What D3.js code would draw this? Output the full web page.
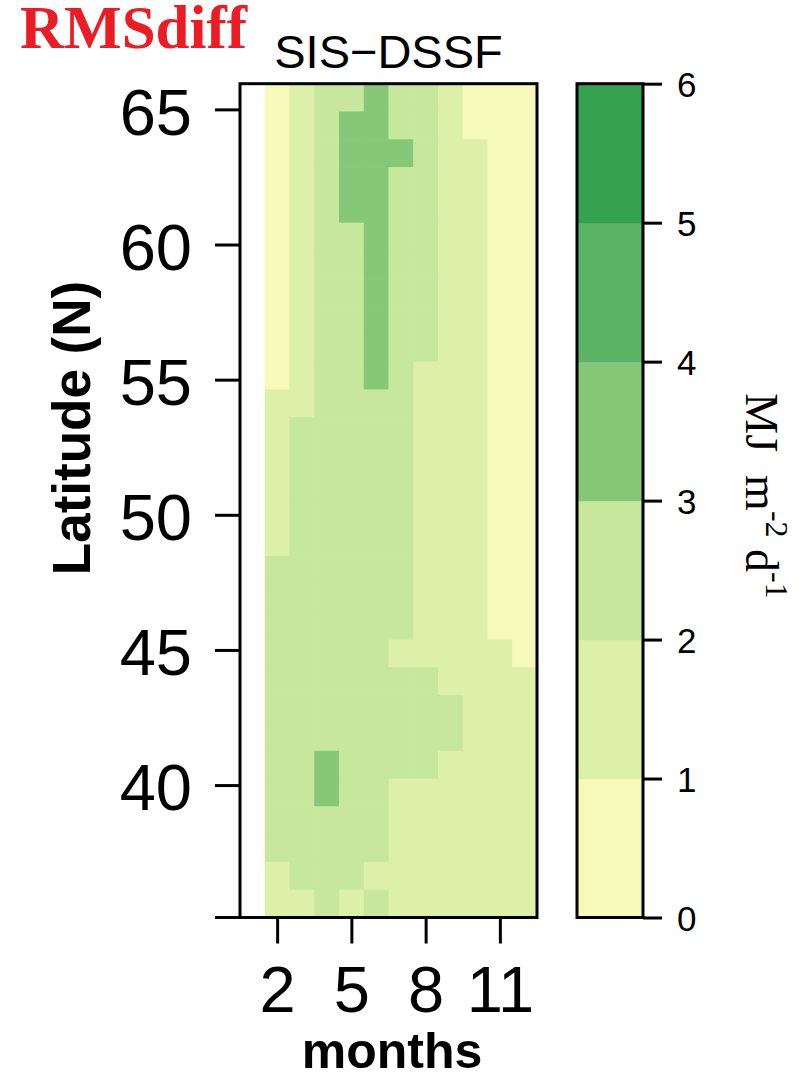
<!DOCTYPE html>
<html><head><meta charset="utf-8">
<script src="https://cdn.jsdelivr.net/npm/d3@7"></script>
<style>body{margin:0;background:#fff}</style>
</head><body><svg id="c" width="805" height="1074"></svg>
<script>
// ---- data ----
const months = [1,2,3,4,5,6,7,8,9,10,11,12];
const latRows = [65,64,63,62,61,60,59,58,57,56,55,54,53,52,51,50,49,48,47,46,45,44,43,42,41,40,39,38,37,36];
// RMS difference (MJ m-2 d-1), one row per latitude band (north to south), columns = months 1..12
const rmsValues = [
  [null,0.6,1.5,2.5,2.5,3.4,2.5,2.5,1.5,0.6,0.6,0.6],
  [null,0.6,1.5,2.5,3.4,3.4,2.5,2.5,1.5,0.6,0.6,0.6],
  [null,0.6,1.5,2.5,3.4,3.4,3.4,2.5,1.5,1.5,0.6,0.6],
  [null,0.6,1.5,2.5,3.4,3.4,2.5,2.5,1.5,1.5,0.6,0.6],
  [null,0.6,1.5,2.5,3.4,3.4,2.5,2.5,1.5,1.5,0.6,0.6],
  [null,0.6,1.5,2.5,2.5,3.4,2.5,2.5,1.5,1.5,0.6,0.6],
  [null,0.6,1.5,2.5,2.5,3.4,2.5,2.5,1.5,1.5,0.6,0.6],
  [null,0.6,1.5,2.5,2.5,3.4,2.5,2.5,1.5,1.5,0.6,0.6],
  [null,0.6,1.5,2.5,2.5,3.4,2.5,2.5,1.5,1.5,0.6,0.6],
  [null,0.6,1.5,2.5,2.5,3.4,2.5,2.5,1.5,1.5,0.6,0.6],
  [null,0.6,1.5,2.5,2.5,3.4,2.5,1.5,1.5,1.5,0.6,0.6],
  [null,1.5,1.5,2.5,2.5,2.5,2.5,1.5,1.5,1.5,0.6,0.6],
  [null,1.5,2.5,2.5,2.5,2.5,2.5,1.5,1.5,1.5,0.6,0.6],
  [null,1.5,2.5,2.5,2.5,2.5,2.5,1.5,1.5,1.5,0.6,0.6],
  [null,1.5,2.5,2.5,2.5,2.5,2.5,1.5,1.5,1.5,0.6,0.6],
  [null,1.5,2.5,2.5,2.5,2.5,2.5,1.5,1.5,1.5,0.6,0.6],
  [null,1.5,2.5,2.5,2.5,2.5,2.5,1.5,1.5,1.5,0.6,0.6],
  [null,2.5,2.5,2.5,2.5,2.5,2.5,1.5,1.5,1.5,0.6,0.6],
  [null,2.5,2.5,2.5,2.5,2.5,2.5,1.5,1.5,1.5,0.6,0.6],
  [null,2.5,2.5,2.5,2.5,2.5,2.5,1.5,1.5,1.5,0.6,0.6],
  [null,2.5,2.5,2.5,2.5,2.5,1.5,1.5,1.5,1.5,1.5,0.6],
  [null,2.5,2.5,2.5,2.5,2.5,2.5,2.5,1.5,1.5,1.5,1.5],
  [null,2.5,2.5,2.5,2.5,2.5,2.5,2.5,2.5,1.5,1.5,1.5],
  [null,2.5,2.5,2.5,2.5,2.5,2.5,2.5,2.5,1.5,1.5,1.5],
  [null,2.5,2.5,3.4,2.5,2.5,2.5,2.5,1.5,1.5,1.5,1.5],
  [null,2.5,2.5,3.4,2.5,2.5,1.5,1.5,1.5,1.5,1.5,1.5],
  [null,2.5,2.5,2.5,2.5,2.5,1.5,1.5,1.5,1.5,1.5,1.5],
  [null,2.5,2.5,2.5,2.5,2.5,1.5,1.5,1.5,1.5,1.5,1.5],
  [null,1.5,2.5,2.5,2.5,1.5,1.5,1.5,1.5,1.5,1.5,1.5],
  [null,1.5,1.5,2.5,1.5,2.5,1.5,1.5,1.5,1.5,1.5,1.5]
];
const latTicks = [40,45,50,55,60,65];
const monthTicks = [2,5,8,11];
const legendTicks = [0,1,2,3,4,5,6];
const levelBreaks = [1,2,3,4,5];
const levelColors = ["#f6fab9","#dcf0a8","#c6e79c","#85c878","#5cb467","#34a251"];

// ---- layout ----
const svg = d3.select("#c");
const box = {l:240, r:537, t:83.7, b:917.5};
const cbar = {l:577, r:643};

const x = d3.scaleBand().domain(months).range([box.l, box.r]);
const xTick = d3.scaleLinear().domain([0.5,12.5]).range([box.l, box.r]);
const yRow = d3.scaleBand().domain(latRows).range([box.t, box.b]);
const yLat = d3.scaleLinear().domain([35.1,65.95]).range([box.b, box.t]);
const color = d3.scaleThreshold().domain(levelBreaks).range(levelColors);
const yCb = d3.scaleLinear().domain([0,6]).range([box.b, box.t]);

// cells
const cells = [];
rmsValues.forEach((row,i)=>row.forEach((v,j)=>{ if(v!==null) cells.push({lat:latRows[i], m:months[j], v}); }));
svg.append("g").selectAll("rect").data(cells).join("rect")
  .attr("x", d=>x(d.m)).attr("y", d=>yRow(d.lat))
  .attr("width", x.bandwidth()+0.6).attr("height", yRow.bandwidth()+0.6)
  .attr("fill", d=>color(d.v));

// axes
const sw = 3;
const yAxis = svg.append("g").attr("transform",`translate(${box.l},0)`)
  .call(d3.axisLeft(yLat).tickValues(latTicks).tickSize(25).tickPadding(23).tickFormat(d3.format("d")));
const xAxis = svg.append("g").attr("transform",`translate(0,${box.b})`)
  .call(d3.axisBottom(xTick).tickValues(monthTicks).tickSize(26).tickPadding(22).tickFormat(d3.format("d")));
[yAxis,xAxis].forEach(g=>{
  g.select(".domain").remove();
  g.selectAll(".tick line").attr("stroke","#000").attr("stroke-width",sw);
  g.selectAll(".tick text").attr("font-family","Liberation Sans, Arial, sans-serif").attr("font-size",65).attr("fill","#000");
});
yAxis.selectAll(".tick text").attr("dy","0.38em");

// box
svg.append("rect").attr("x",box.l).attr("y",box.t).attr("width",box.r-box.l).attr("height",box.b-box.t)
  .attr("fill","none").attr("stroke","#000").attr("stroke-width",sw);
svg.append("line").attr("x1",box.l-25).attr("x2",box.l).attr("y1",box.b).attr("y2",box.b)
  .attr("stroke","#000").attr("stroke-width",sw);

// colorbar
const levels = d3.range(levelColors.length);
svg.append("g").selectAll("rect").data(levels).join("rect")
  .attr("x",cbar.l).attr("width",cbar.r-cbar.l)
  .attr("y",d=>yCb(d+1)).attr("height",d=>yCb(d)-yCb(d+1)+0.6)
  .attr("fill",d=>levelColors[d]);
svg.append("rect").attr("x",cbar.l).attr("y",box.t).attr("width",cbar.r-cbar.l).attr("height",box.b-box.t)
  .attr("fill","none").attr("stroke","#000").attr("stroke-width",sw);
const cAxis = svg.append("g").attr("transform",`translate(${cbar.r},0)`)
  .call(d3.axisRight(yCb).tickValues(legendTicks).tickSize(19).tickPadding(15).tickFormat(d3.format("d")));
cAxis.select(".domain").remove();
cAxis.selectAll(".tick line").attr("stroke","#000").attr("stroke-width",sw);
cAxis.selectAll(".tick text").attr("font-family","Liberation Sans, Arial, sans-serif").attr("font-size",35).attr("fill","#000").attr("dy","0.36em");

// unit label
const unit = svg.append("text").attr("transform","translate(746,496) rotate(90)")
  .attr("text-anchor","middle").attr("font-family","Liberation Serif, Times New Roman, serif").attr("font-size",46);
unit.append("tspan").text("MJ\u00a0 m");
unit.append("tspan").attr("font-size",32).attr("dy",-20).text("-2");
unit.append("tspan").attr("dy",20).text(" d");
unit.append("tspan").attr("font-size",32).attr("dy",-20).text("-1");

// titles
svg.append("text").attr("x",20).attr("y",47.5).attr("font-family","Liberation Serif, Times New Roman, serif")
  .attr("font-weight","bold").attr("font-size",61).attr("fill","#ec1c24").text("RMSdiff");
svg.append("text").attr("x",(box.l+box.r)/2).attr("y",68.3).attr("text-anchor","middle")
  .attr("font-family","Liberation Sans, Arial, sans-serif").attr("font-size",47).text("SIS\u2212DSSF");
svg.append("text").attr("x",392).attr("y",1068).attr("text-anchor","middle")
  .attr("font-family","Liberation Sans, Arial, sans-serif").attr("font-weight","bold").attr("font-size",50).text("months");
svg.append("text").attr("transform","translate(90,428) rotate(-90)").attr("text-anchor","middle")
  .attr("font-family","Liberation Sans, Arial, sans-serif").attr("font-weight","bold").attr("font-size",53).text("Latitude (N)");
</script></body></html>
